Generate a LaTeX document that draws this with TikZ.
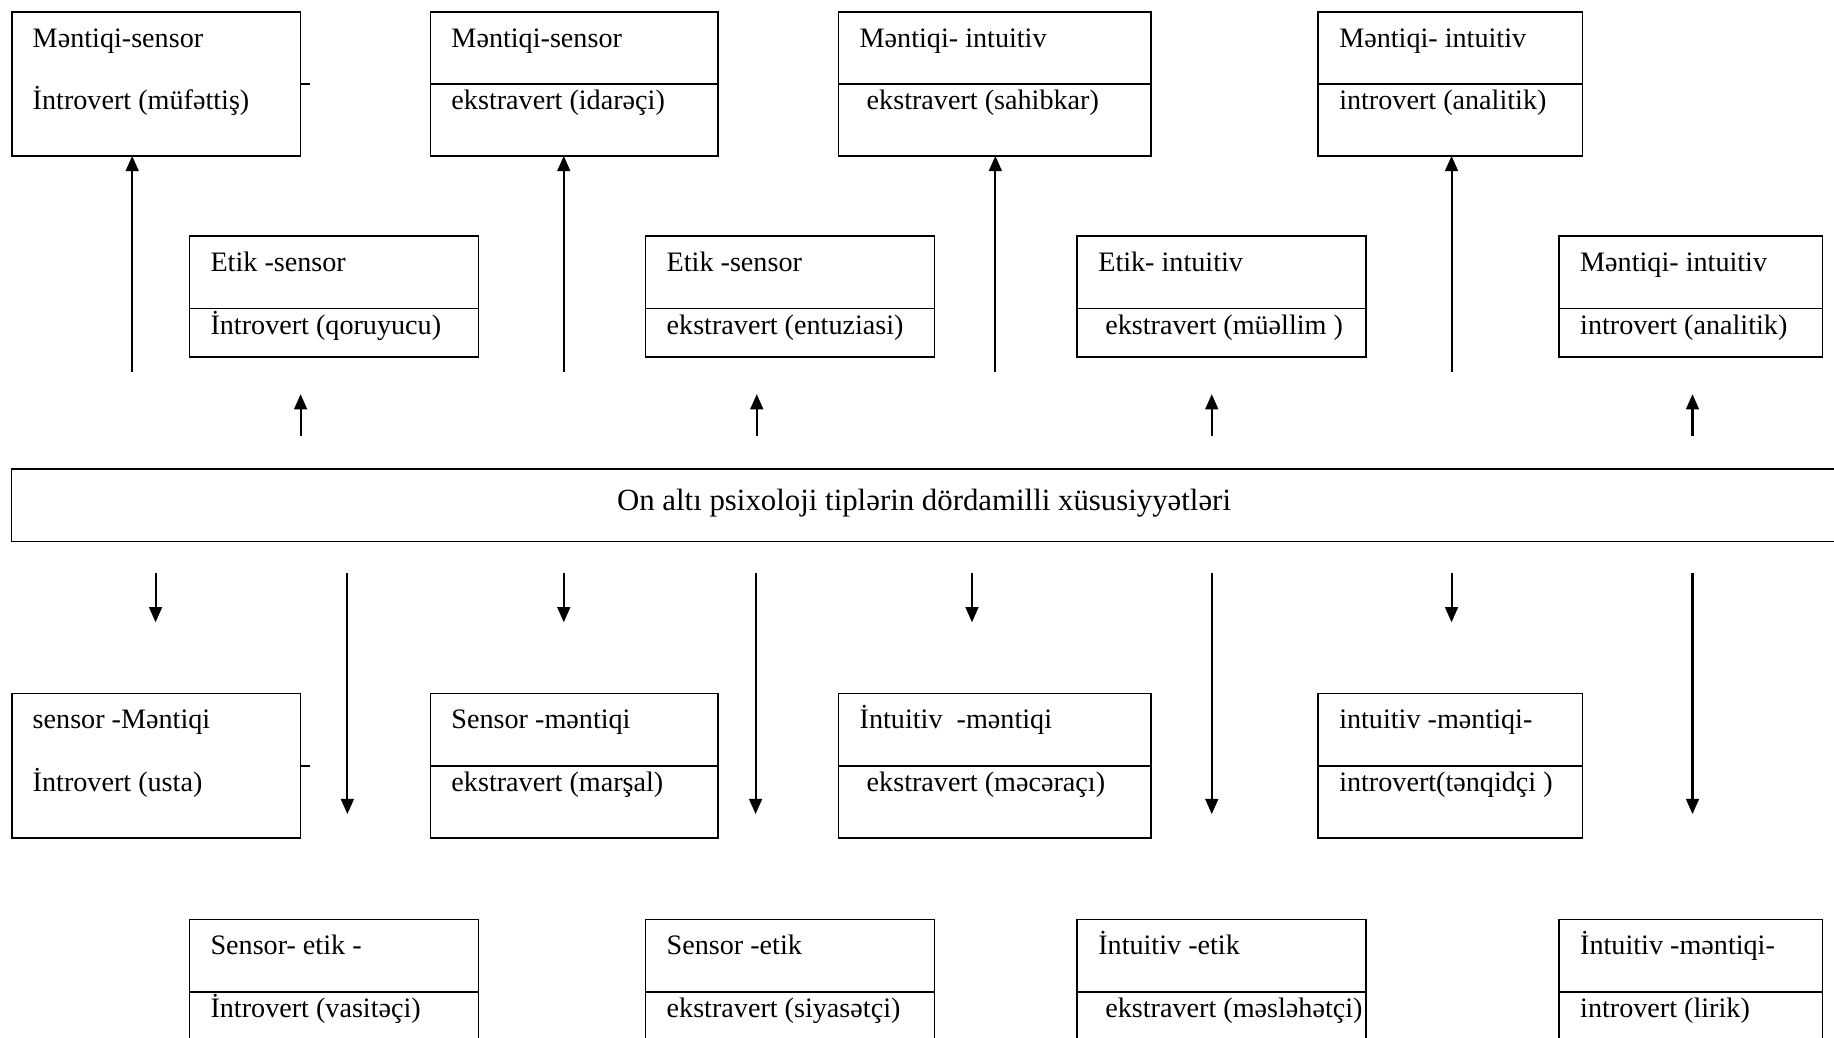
\documentclass[tikz,border=0pt]{standalone}
\usepackage{fontspec}
\setmainfont{Liberation Serif}
\usetikzlibrary{arrows.meta, shapes.multipart}
\newcommand{\typetop}[1]{\rule[-0.62cm]{0pt}{1.21cm}\makebox[0pt][l]{#1}}
\newcommand{\typebot}[1]{\rule[-0.78cm]{0pt}{1.2cm}\makebox[0pt][l]{#1}}
\newcommand{\typebotlow}[1]{\rule[-0.38cm]{0pt}{0.8cm}\makebox[0pt][l]{#1}}
\tikzset{
  tbox/.style={rectangle split, rectangle split parts=2, draw, line width=0.8pt,
               rectangle split part align=left, anchor=north west,
               inner xsep=0.36cm, inner ysep=0pt, outer sep=0pt,
               font=\fontsize{13.7}{16}\selectfont},
  tboxopen/.style={tbox, rectangle split draw splits=false},
  banner/.style={rectangle, draw, line width=0.7pt, anchor=north west,
                 inner sep=0pt, outer sep=0pt, font=\fontsize{15}{18}\selectfont},
  arr/.style={-{Triangle[length=0.26cm, width=0.22cm]}, line width=1pt},
  tick/.style={line width=0.8pt},
}

\begin{document}
\begin{tikzpicture}[x=0.02cm, y=0.02cm]
  \def\U{0.02cm}
  \useasboundingbox (0,0) rectangle (1568,-887);
  % upper rows
  \node[tboxopen, minimum width=247*\U] (a1) at (10,-10)
    {\typetop{Məntiqi-sensor}\nodepart{two}\typebot{İntrovert (müfəttiş)}};
  \node[tbox, minimum width=246*\U] (a2) at (368,-10)
    {\typetop{Məntiqi-sensor}\nodepart{two}\typebot{ekstravert (idarəçi)}};
  \node[tbox, minimum width=267*\U] (a3) at (717,-10)
    {\typetop{Məntiqi- intuitiv}\nodepart{two}\typebot{\ ekstravert (sahibkar)}};
  \node[tbox, minimum width=226*\U] (a4) at (1127,-10)
    {\typetop{Məntiqi- intuitiv}\nodepart{two}\typebot{introvert (analitik)}};
  \node[tbox, minimum width=247*\U] (b1) at (162,-202)
    {\typetop{Etik -sensor}\nodepart{two}\typebotlow{İntrovert (qoruyucu)}};
  \node[tbox, minimum width=247*\U] (b2) at (552,-202)
    {\typetop{Etik -sensor}\nodepart{two}\typebotlow{ekstravert (entuziasi)}};
  \node[tbox, minimum width=247*\U] (b3) at (921,-202)
    {\typetop{Etik- intuitiv}\nodepart{two}\typebotlow{\ ekstravert (müəllim )}};
  \node[tbox, minimum width=225*\U] (b4) at (1333,-202)
    {\typetop{Məntiqi- intuitiv}\nodepart{two}\typebotlow{introvert (analitik)}};
  \draw[tick] (a1.one split east) -- ++(8,0);

  \node[banner, minimum width=1560*\U, minimum height=62*\U] (core) at (10,-401)
    {\raisebox{0.18cm}{On altı psixoloji tiplərin dördamilli xüsusiyyətləri}};

  % lower rows
  \node[tboxopen, minimum width=247*\U] (c1) at (10,-593)
    {\typetop{sensor -Məntiqi}\nodepart{two}\typebot{İntrovert (usta)}};
  \node[tbox, minimum width=246*\U] (c2) at (368,-593)
    {\typetop{Sensor -məntiqi}\nodepart{two}\typebot{ekstravert (marşal)}};
  \node[tbox, minimum width=267*\U] (c3) at (717,-593)
    {\typetop{İntuitiv\ \ -məntiqi}\nodepart{two}\typebot{\ ekstravert (məcəraçı)}};
  \node[tbox, minimum width=226*\U] (c4) at (1127,-593)
    {\typetop{intuitiv -məntiqi-}\nodepart{two}\typebot{introvert(tənqidçi )}};
  \node[tbox, minimum width=247*\U] (d1) at (162,-786)
    {\typetop{Sensor- etik -}\nodepart{two}\typebotlow{İntrovert (vasitəçi)}};
  \node[tbox, minimum width=247*\U] (d2) at (552,-786)
    {\typetop{Sensor -etik}\nodepart{two}\typebotlow{ekstravert (siyasətçi)}};
  \node[tbox, minimum width=247*\U] (d3) at (921,-786)
    {\typetop{İntuitiv -etik}\nodepart{two}\typebotlow{\ ekstravert (məsləhətçi)}};
  \node[tbox, minimum width=225*\U] (d4) at (1333,-786)
    {\typetop{İntuitiv -məntiqi-}\nodepart{two}\typebotlow{introvert (lirik)}};
  \draw[tick] (c1.one split east) -- ++(8,0);

  % arrows above the banner
  \coordinate (up1) at (113,-318);  \draw[arr] (up1) -- (up1 |- a1.south);
  \coordinate (up2) at (482,-318);  \draw[arr] (up2) -- (up2 |- a2.south);
  \coordinate (up3) at (851,-318);  \draw[arr] (up3) -- (up3 |- a3.south);
  \coordinate (up4) at (1241,-318); \draw[arr] (up4) -- (up4 |- a4.south);
  \coordinate (us1) at (257,-373);  \draw[arr] (us1) -- ++(0,36);
  \coordinate (us2) at (647,-373);  \draw[arr] (us2) -- ++(0,36);
  \coordinate (us3) at (1036,-373); \draw[arr] (us3) -- ++(0,36);
  \coordinate (us4) at (1447,-373); \draw[arr] (us4) -- ++(0,36);

  % arrows below the banner
  \coordinate (ds1) at (133,-490);  \draw[arr] (ds1) -- ++(0,-42);
  \coordinate (ds2) at (482,-490);  \draw[arr] (ds2) -- ++(0,-42);
  \coordinate (ds3) at (831,-490);  \draw[arr] (ds3) -- ++(0,-42);
  \coordinate (ds4) at (1241,-490); \draw[arr] (ds4) -- ++(0,-42);
  \coordinate (dl1) at (297,-490);  \draw[arr] (dl1) -- ++(0,-206);
  \coordinate (dl2) at (646,-490);  \draw[arr] (dl2) -- ++(0,-206);
  \coordinate (dl3) at (1036,-490); \draw[arr] (dl3) -- ++(0,-206);
  \coordinate (dl4) at (1447,-490); \draw[arr] (dl4) -- ++(0,-206);
\end{tikzpicture}
\end{document}
